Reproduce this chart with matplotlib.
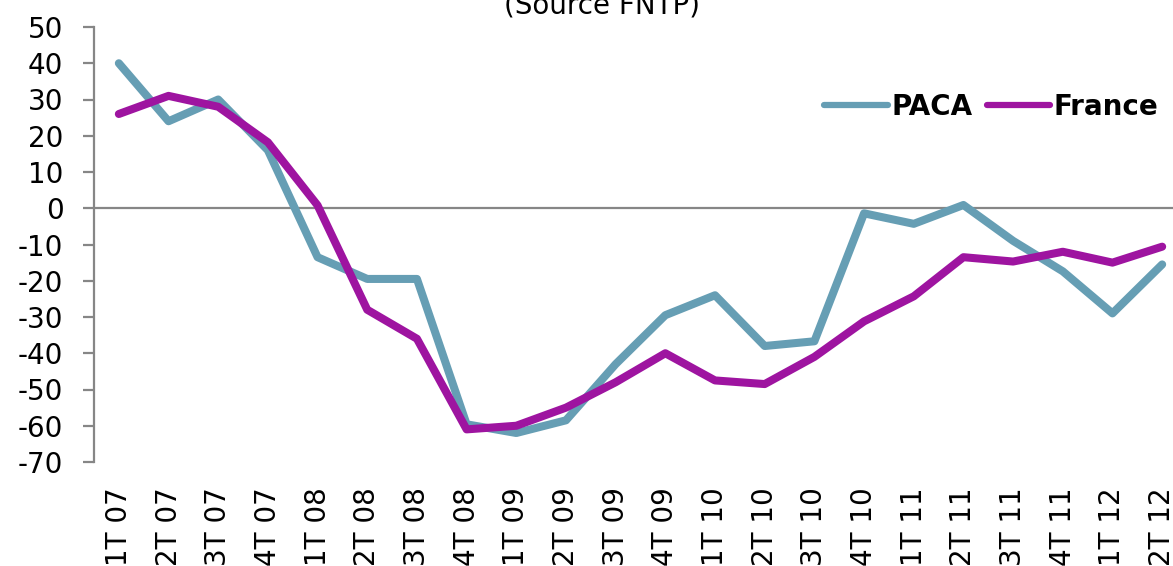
import matplotlib
matplotlib.use('Agg')
import matplotlib.pyplot as plt

periods = ['1T 07', '2T 07', '3T 07', '4T 07',
           '1T 08', '2T 08', '3T 08', '4T 08',
           '1T 09', '2T 09', '3T 09', '4T 09',
           '1T 10', '2T 10', '3T 10', '4T 10',
           '1T 11', '2T 11', '3T 11', '4T 11',
           '1T 12', '2T 12']
paca = [40, 24, 30, 16, -13.5, -19.5, -19.5, -59.6, -62, -58.5, -43, -29.5,
        -24, -38, -36.7, -1.4, -4.3, 0.9, -9, -17.4, -29, -15.5]
france = [26, 31, 28, 18.2, 0.8, -28, -36, -61, -60, -55, -48, -40,
          -47.5, -48.5, -41, -31.2, -24.3, -13.5, -14.7, -12, -15, -10.6]

plt.rcParams['font.family'] = ['DejaVu Sans']
plt.rcParams['axes.unicode_minus'] = False

fig = plt.figure(figsize=(11.73, 5.66), dpi=100)
ax = fig.add_axes([94 / 1173, 104 / 566, 1093 / 1173, 435 / 566])

x = list(range(len(periods)))
ax.plot(x, paca, color='#669eb4', lw=5.8, label='PACA', solid_capstyle='round')
ax.plot(x, france, color='#9e14a0', lw=5.8, label='France', solid_capstyle='round')
ax.axhline(0, color='#868686', lw=1.6, zorder=0)

ax.set_xlim(-0.5, len(periods) - 0.5)
ax.set_ylim(-70, 50)
ax.set_yticks(range(-70, 51, 10))
ax.set_xticks(x)
ax.set_xticklabels(periods, rotation=90)

for s in ['top', 'right', 'bottom']:
    ax.spines[s].set_visible(False)
ax.spines['left'].set_color('#868686')
ax.spines['left'].set_linewidth(1.6)
ax.tick_params(axis='y', colors='#868686', labelcolor='black', length=8, width=1.6,
               labelsize=20, pad=14)
ax.tick_params(axis='x', length=0, labelsize=20, pad=18)

leg = ax.legend(loc='center right', bbox_to_anchor=(0.974, 0.816), ncol=2, frameon=False,
                prop={'weight': 'bold', 'size': 20}, handlelength=2.3,
                handletextpad=0.12, columnspacing=0.5, borderpad=0, borderaxespad=0)
for h in leg.get_lines():
    h.set_linewidth(4.5)

fig.text(0.513, 0.99, '(Source FNTP)', ha='center', va='center', fontsize=20)

plt.savefig('out.png', dpi=100)
